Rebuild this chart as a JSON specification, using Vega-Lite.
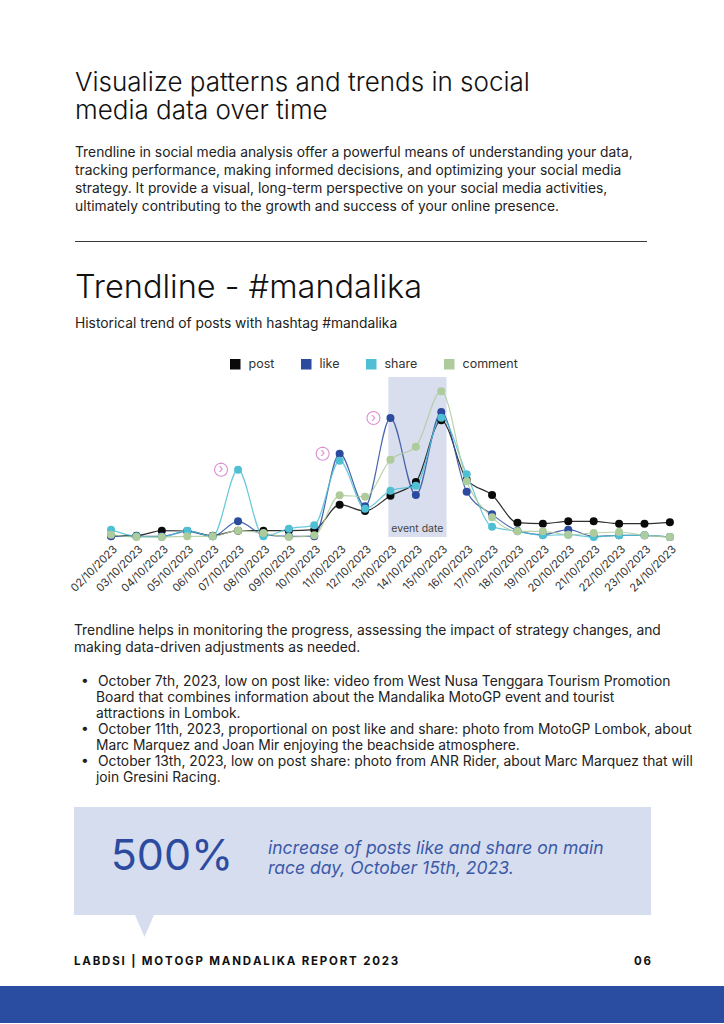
{
  "$schema": "https://vega.github.io/schema/vega-lite/v6.json",
  "background": "white",
  "padding": {"left": 0, "top": 69, "right": 0, "bottom": 0},
  "spacing": 30,
  "config": {
    "view": {"stroke": null},
    "font": "Inter",
    "title": {"font": "Inter", "subtitleFont": "Inter"},
    "axis": {"labelOverlap": false},
    "axisX": {"labelOverlap": false, "tickCount": 40}
  },
  "datasets": {
    "series": [
      {"date": "2023-10-02T00:00:00", "post": 4, "like": 2, "share": 22, "comment": 7},
      {"date": "2023-10-03T00:00:00", "post": 4, "like": 2, "share": 2, "comment": 0},
      {"date": "2023-10-04T00:00:00", "post": 19, "like": 2, "share": 0, "comment": 0},
      {"date": "2023-10-05T00:00:00", "post": 18, "like": 17, "share": 19, "comment": 2},
      {"date": "2023-10-06T00:00:00", "post": 4, "like": 2, "share": 2, "comment": 2},
      {"date": "2023-10-07T00:00:00", "post": 19, "like": 47, "share": 202, "comment": 19},
      {"date": "2023-10-08T00:00:00", "post": 19, "like": 7, "share": 2, "comment": 12},
      {"date": "2023-10-09T00:00:00", "post": 19, "like": 2, "share": 25, "comment": 0},
      {"date": "2023-10-10T00:00:00", "post": 22, "like": 2, "share": 35, "comment": 5},
      {"date": "2023-10-11T00:00:00", "post": 97, "like": 250, "share": 229, "comment": 125},
      {"date": "2023-10-12T00:00:00", "post": 78, "like": 92, "share": 85, "comment": 121},
      {"date": "2023-10-13T00:00:00", "post": 124, "like": 357, "share": 139, "comment": 232},
      {"date": "2023-10-14T00:00:00", "post": 165, "like": 126, "share": 154, "comment": 271},
      {"date": "2023-10-15T00:00:00", "post": 350, "like": 375, "share": 358, "comment": 437},
      {"date": "2023-10-16T00:00:00", "post": 172, "like": 136, "share": 188, "comment": 167},
      {"date": "2023-10-17T00:00:00", "post": 126, "like": 68, "share": 31, "comment": 59},
      {"date": "2023-10-18T00:00:00", "post": 43, "like": 19, "share": 17, "comment": 17},
      {"date": "2023-10-19T00:00:00", "post": 40, "like": 7, "share": 5, "comment": 17},
      {"date": "2023-10-20T00:00:00", "post": 47, "like": 22, "share": 7, "comment": 7},
      {"date": "2023-10-21T00:00:00", "post": 47, "like": 2, "share": 0, "comment": 12},
      {"date": "2023-10-22T00:00:00", "post": 40, "like": 5, "share": 5, "comment": 15},
      {"date": "2023-10-23T00:00:00", "post": 40, "like": 5, "share": 5, "comment": 5},
      {"date": "2023-10-24T00:00:00", "post": 44, "like": 0, "share": 0, "comment": 0}
    ],
    "band": [
      {"start": "2023-10-12T22:00:00", "end": "2023-10-15T05:00:00", "label": "event date"}
    ],
    "notes": [
      {"date": "2023-10-07T00:00:00", "value": 202, "note": "share peak"},
      {"date": "2023-10-11T00:00:00", "value": 250, "note": "like and share"},
      {"date": "2023-10-13T00:00:00", "value": 357, "note": "like peak"}
    ]
  },
  "vconcat": [
    {
      "spacing": 74,
      "bounds": "flush",
      "hconcat": [
        {"data": {"values": []}, "mark": "point", "width": 1, "height": 1},
        {
          "data": {"values": []},
          "mark": "point",
          "width": 572,
          "height": 1,
          "view": {"fill": "#3a3a3a", "stroke": null},
          "title": {
            "text": ["Visualize patterns and trends in social", "media data over time"],
            "subtitle": [
              "Trendline in social media analysis offer a powerful means of understanding your data,",
              "tracking performance, making informed decisions, and optimizing your social media",
              "strategy. It provide a visual, long-term perspective on your social media activities,",
              "ultimately contributing to the growth and success of your online presence."
            ],
            "anchor": "start",
            "fontSize": 26,
            "fontWeight": 300,
            "color": "#111111",
            "lineHeight": 28,
            "subtitleFontSize": 13.8,
            "subtitleFontWeight": "normal",
            "subtitleColor": "#222222",
            "subtitleLineHeight": 18.2,
            "subtitlePadding": 22,
            "offset": 27
          }
        }
      ]
    },
    {
      "width": 724,
      "height": 160,
      "title": {
        "text": "Trendline - #mandalika",
        "subtitle": "Historical trend of posts with hashtag #mandalika",
        "anchor": "start",
        "dx": 75,
        "fontSize": 32.5,
        "fontWeight": 300,
        "color": "#111111",
        "subtitleFontSize": 13.8,
        "subtitleFontWeight": "normal",
        "subtitleColor": "#222222",
        "subtitlePadding": 12,
        "offset": 46.5
      },
      "layer": [
        {
          "data": {"name": "band"},
          "mark": {"type": "rect", "color": "#d8deee"},
          "encoding": {
            "x": {
              "field": "start",
              "type": "temporal",
              "scale": {
                "domain": [
                  {"year": 2023, "month": 9, "date": 27, "hours": 15, "minutes": 7},
                  {"year": 2023, "month": 10, "date": 26, "hours": 3, "minutes": 7}
                ]
              },
              "axis": {
                "title": null,
                "values": [
                  {"year": 2023, "month": 10, "date": 2}, {"year": 2023, "month": 10, "date": 3},
                  {"year": 2023, "month": 10, "date": 4}, {"year": 2023, "month": 10, "date": 5},
                  {"year": 2023, "month": 10, "date": 6}, {"year": 2023, "month": 10, "date": 7},
                  {"year": 2023, "month": 10, "date": 8}, {"year": 2023, "month": 10, "date": 9},
                  {"year": 2023, "month": 10, "date": 10}, {"year": 2023, "month": 10, "date": 11},
                  {"year": 2023, "month": 10, "date": 12}, {"year": 2023, "month": 10, "date": 13},
                  {"year": 2023, "month": 10, "date": 14}, {"year": 2023, "month": 10, "date": 15},
                  {"year": 2023, "month": 10, "date": 16}, {"year": 2023, "month": 10, "date": 17},
                  {"year": 2023, "month": 10, "date": 18}, {"year": 2023, "month": 10, "date": 19},
                  {"year": 2023, "month": 10, "date": 20}, {"year": 2023, "month": 10, "date": 21},
                  {"year": 2023, "month": 10, "date": 22}, {"year": 2023, "month": 10, "date": 23},
                  {"year": 2023, "month": 10, "date": 24}
                ],
                "tickCount": 40,
                "format": "%d/%m/%Y",
                "labelAngle": -45,
                "labelFontSize": 11,
                "labelColor": "#333333",
                "labelOverlap": false,
                "labelFlush": false,
                "labelPadding": 6,
                "domain": false,
                "ticks": false,
                "grid": false
              }
            },
            "x2": {"field": "end"}
          }
        },
        {
          "data": {"name": "band"},
          "mark": {"type": "text", "align": "left", "baseline": "alphabetic", "dx": 3, "dy": 75, "fontSize": 10.5, "color": "#444444"},
          "encoding": {
            "x": {"field": "start", "type": "temporal"},
            "text": {"field": "label"}
          }
        },
        {
          "data": {"name": "series"},
          "transform": [{"fold": ["post", "like", "share", "comment"], "as": ["metric", "value"]}],
          "mark": {"type": "line", "interpolate": "monotone", "strokeWidth": 1.2, "strokeOpacity": 0.85},
          "encoding": {
            "x": {"field": "date", "type": "temporal"},
            "y": {"field": "value", "type": "quantitative", "scale": {"domain": [0, 480], "nice": false}, "axis": null},
            "color": {
              "field": "metric",
              "type": "nominal",
              "scale": {"domain": ["post", "like", "share", "comment"], "range": ["#0a0a0a", "#2c4b9f", "#4fbfd3", "#aecb9b"]},
              "legend": {
                "orient": "none",
                "legendX": 229,
                "legendY": 117,
                "direction": "horizontal",
                "gridAlign": "none",
                "title": null,
                "symbolType": "square",
                "symbolSize": 81,
                "labelFontSize": 12.5,
                "labelColor": "#333333",
                "labelOffset": 7,
                "columnPadding": 23
              }
            }
          }
        },
        {
          "data": {"name": "series"},
          "transform": [{"fold": ["post", "like", "share", "comment"], "as": ["metric", "value"]}],
          "mark": {"type": "point", "filled": true, "size": 64, "opacity": 1},
          "encoding": {
            "x": {"field": "date", "type": "temporal"},
            "y": {"field": "value", "type": "quantitative"},
            "color": {"field": "metric", "type": "nominal"}
          }
        },
        {
          "data": {"name": "notes"},
          "mark": {
            "type": "point",
            "shape": "M-10.5,0L-11,2.49L-12.4,4.6L-14.51,6L-17,6.5L-19.49,6L-21.6,4.6L-23,2.49L-23.5,0L-23,-2.49L-21.6,-4.6L-19.49,-6L-17,-6.5L-14.51,-6L-12.4,-4.6L-11,-2.49Z",
            "size": 4,
            "filled": false,
            "color": "#d98fd0",
            "strokeWidth": 1.1,
            "opacity": 1
          },
          "encoding": {
            "x": {"field": "date", "type": "temporal"},
            "y": {"field": "value", "type": "quantitative"}
          }
        },
        {
          "data": {"name": "notes"},
          "mark": {"type": "text", "text": "›", "dx": -17, "dy": -0.5, "fontSize": 13, "baseline": "middle", "align": "center", "color": "#d98fd0"},
          "encoding": {
            "x": {"field": "date", "type": "temporal"},
            "y": {"field": "value", "type": "quantitative"}
          }
        }
      ]
    },
    {
      "spacing": 18,
      "vconcat": [
        {
          "spacing": 0,
          "vconcat": [
            {
              "spacing": 73,
              "bounds": "flush",
              "hconcat": [
                {"data": {"values": []}, "mark": "point", "width": 1, "height": 1},
                {
                  "spacing": 0,
                  "bounds": "flush",
                  "title": {
                    "text": [
                      "Trendline helps in monitoring the progress, assessing the impact of strategy changes, and",
                      "making data-driven adjustments as needed."
                    ],
                    "subtitle": [
                      "\u200d\u2002\u2022\u2002\u2009October 7th, 2023, low on post like: video from West Nusa Tenggara Tourism Promotion",
                      "\u200d\u2002\u2002\u2002\u200aBoard that combines information about the Mandalika MotoGP event and tourist",
                      "\u200d\u2002\u2002\u2002\u200aattractions in Lombok.",
                      "\u200d\u2002\u2022\u2002\u2009October 11th, 2023, proportional on post like and share: photo from MotoGP Lombok, about",
                      "\u200d\u2002\u2002\u2002\u200aMarc Marquez and Joan Mir enjoying the beachside atmosphere.",
                      "\u200d\u2002\u2022\u2002\u2009October 13th, 2023, low on post share: photo from ANR Rider, about Marc Marquez that will",
                      "\u200d\u2002\u2002\u2002\u200ajoin Gresini Racing."
                    ],
                    "anchor": "start",
                    "fontSize": 13.8,
                    "fontWeight": "normal",
                    "color": "#222222",
                    "lineHeight": 17,
                    "subtitleFontSize": 13.8,
                    "subtitleFontWeight": "normal",
                    "subtitleColor": "#222222",
                    "subtitleLineHeight": 16,
                    "subtitlePadding": 20,
                    "offset": 22
                  },
                  "hconcat": [
                    {
                      "data": {"values": [{"text": "500%"}]},
                      "width": 196,
                      "height": 108,
                      "view": {"fill": "#d6ddef", "stroke": null},
                      "mark": {"type": "text", "fontSize": 43, "fontWeight": 400, "color": "#2c4b9f", "align": "center", "baseline": "middle", "dy": -4},
                      "encoding": {"text": {"field": "text"}}
                    },
                    {
                      "data": {"values": [{"text": "increase of posts like and share on main\nrace day, October 15th, 2023."}]},
                      "width": 381,
                      "height": 108,
                      "view": {"fill": "#d6ddef", "stroke": null},
                      "mark": {"type": "text", "fontSize": 17.5, "fontStyle": "italic", "color": "#3b59a8", "align": "left", "baseline": "alphabetic", "dx": -192.5, "dy": -7, "lineBreak": "\n", "lineHeight": 19.5},
                      "encoding": {"text": {"field": "text"}}
                    }
                  ]
                }
              ]
            },
            {
              "spacing": 134,
              "bounds": "flush",
              "hconcat": [
                {"data": {"values": []}, "mark": "point", "width": 1, "height": 1},
                {
                  "data": {"values": [{"part": "pointer"}]},
                  "width": 19,
                  "height": 22,
                  "mark": {"type": "point", "shape": "M-0.864,-1L0.864,-1L0,1Z", "size": 484, "filled": true, "color": "#d6ddef", "opacity": 1, "strokeWidth": 0}
                }
              ]
            }
          ]
        },
        {
          "spacing": 0,
          "bounds": "flush",
          "hconcat": [
            {
              "data": {"values": []},
              "mark": "point",
              "width": 362,
              "height": 37,
              "view": {"fill": "#2a4ca1", "stroke": null},
              "title": {"text": "L\u2009A\u2009B\u2009D\u2009S\u2009I\u2009 \u2009|\u2009 \u2009M\u2009O\u2009T\u2009O\u2009G\u2009P\u2009 \u2009M\u2009A\u2009N\u2009D\u2009A\u2009L\u2009I\u2009K\u2009A\u2009 \u2009R\u2009E\u2009P\u2009O\u2009R\u2009T\u2009 \u20092\u20090\u20092\u20093", "anchor": "start", "dx": 74, "fontSize": 11.5, "fontWeight": "bold", "color": "#111111", "offset": 19}
            },
            {
              "data": {"values": []},
              "mark": "point",
              "width": 362,
              "height": 37,
              "view": {"fill": "#2a4ca1", "stroke": null},
              "title": {"text": "0\u20096", "anchor": "end", "dx": -73, "fontSize": 11.5, "fontWeight": "bold", "color": "#111111", "offset": 19}
            }
          ]
        }
      ]
    }
  ]
}
